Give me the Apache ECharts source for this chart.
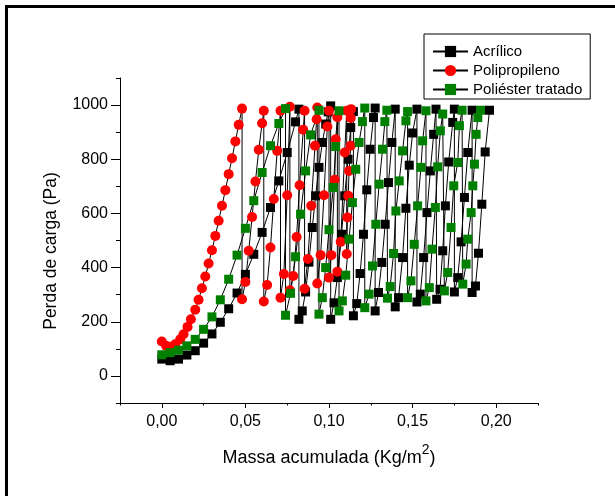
<!DOCTYPE html>
<html><head><meta charset="utf-8">
<script src="https://cdn.jsdelivr.net/npm/echarts@6/dist/echarts.min.js"></script>
<style>html,body{margin:0;padding:0;background:#fff}#c{width:615px;height:496px}</style>
</head><body><div id="c"></div>
<script>
const seriesNames = ['Acrílico', 'Polipropileno', 'Poliéster tratado'];

const acrX = [0,0.005,0.010,0.015,0.020,0.025,0.030,0.035,0.040,0.045,0.050,0.055,0.060,0.065,0.070,0.075,0.080,0.082,
  0.082,0.084,0.086,0.088,0.090,0.092,0.094,0.096,0.098,0.0995,0.101,
  0.101,0.103,0.105,0.1075,0.1094,0.1114,0.113,0.1146,
  0.1146,0.1166,0.1186,0.1206,0.1226,0.1246,0.1266,0.1276,
  0.1276,0.1296,0.1316,0.1336,0.1356,0.1376,0.1396,
  0.1396,0.1416,0.144,0.146,0.148,0.150,0.1526,
  0.1526,0.1546,0.1566,0.1586,0.1606,0.1626,0.164,
  0.1644,0.1664,0.168,0.1696,0.1716,0.174,0.175,
  0.175,0.177,0.179,0.181,0.183,0.1856,
  0.1856,0.1876,0.1894,0.1914,0.1934,0.196];
const acrY = [62,56,62,77,93,121,155,198,248,306,375,449,530,622,720,825,938,985,
  209,240,310,420,548,665,770,862,930,975,997,
  209,270,363,523,665,800,917,976,
  222,267,378,523,687,837,954,989,
  240,308,419,560,714,862,985,
  255,289,437,619,778,897,985,
  273,302,437,603,757,892,985,
  283,320,462,628,790,936,985,
  310,363,495,659,825,981,
  308,332,453,634,827,981];

const polX = [0,0.0026,0.005,0.008,0.011,0.013,0.0154,0.0174,0.020,0.022,0.024,0.026,0.028,0.030,0.032,0.034,0.036,0.038,0.040,0.042,0.044,0.046,0.048,
  0.048,0.050,0.052,0.054,0.056,0.058,0.060,0.061,
  0.061,0.063,0.065,0.067,0.069,0.071,
  0.071,0.073,0.075,0.0766,
  0.0766,0.0786,0.0806,0.0824,0.0846,0.0854,
  0.0854,0.0874,0.0894,0.0916,0.0926,0.093,
  0.093,0.095,0.097,0.099,0.100,
  0.100,0.1014,0.1034,0.104,0.105,
  0.105,0.107,0.1094,0.1106,
  0.1106,0.111,0.1115,0.112,0.113,0.113,0.1132];
const polY = [127,111,108,117,135,154,181,209,244,281,324,367,415,464,517,573,628,686,745,804,866,927,987,
  283,347,462,587,718,835,933,979,
  275,336,474,653,831,979,
  289,376,667,994,
  316,369,513,704,909,979,
  322,432,628,850,948,991,
  341,446,667,921,979,
  363,446,724,874,955,
  385,495,825,979,
  450,585,665,757,850,952,985];

const polTX = [0,0.005,0.010,0.015,0.020,0.025,0.030,0.035,0.040,0.045,0.050,0.055,0.060,0.065,0.070,0.074,
  0.074,0.077,0.080,0.083,0.086,0.089,0.094,
  0.094,0.096,0.098,0.100,0.1026,0.104,0.106,
  0.106,0.108,0.110,0.112,0.114,0.116,0.118,0.120,0.1214,
  0.1214,0.124,0.126,0.128,0.130,0.132,0.1334,0.1346,
  0.135,0.1366,0.1386,0.140,0.142,0.144,0.146,0.147,
  0.147,0.149,0.151,0.153,0.155,0.156,0.158,
  0.158,0.160,0.1616,0.1636,0.165,0.1666,0.168,
  0.169,0.171,0.173,0.1746,0.177,0.178,0.1796,
  0.180,0.182,0.183,0.185,0.186,0.187,0.188,0.189,0.1906];
const polTY = [78,86,95,111,135,172,218,281,357,446,545,647,751,850,932,987,
  224,305,440,597,757,890,981,
  228,289,400,540,696,847,979,
  240,277,372,505,640,763,862,939,989,
  252,302,406,560,708,837,939,981,
  287,330,452,609,720,831,942,976,
  289,351,486,628,770,868,979,
  277,326,468,622,772,905,967,
  314,382,548,702,788,924,981,
  339,413,505,603,702,782,892,954,981];

const xTickValues = [0, 0.05, 0.10, 0.15, 0.20];
const xTickLabels = ['0,00', '0,05', '0,10', '0,15', '0,20'];
const yTickValues = [0, 200, 400, 600, 800, 1000];
const yTickLabels = ['0', '200', '400', '600', '800', '1000'];

const xName = 'Massa acumulada (Kg/m';
const yName = 'Perda de carga (Pa)';

function zip(xs, ys) { return xs.map((x, i) => [x, ys[i]]); }
const FONT = '"Liberation Sans", Arial, sans-serif';

const chart = echarts.init(document.getElementById('c'), null, {renderer: 'canvas'});
const xLabelFmt = v => { const i = xTickValues.findIndex(t => Math.abs(t - v) < 1e-9); return i >= 0 ? xTickLabels[i] : ''; };
const yLabelFmt = v => { const i = yTickValues.findIndex(t => Math.abs(t - v) < 1e-9); return i >= 0 ? yTickLabels[i] : ''; };

const mk = (name, xs, ys, symbol, size, color) => ({
  name, type: 'line', data: zip(xs, ys), symbol, symbolSize: size, showAllSymbol: true,
  itemStyle: {color}, lineStyle: {color: '#000', width: 1},
  emphasis: {disabled: true}, animation: false, xAxisIndex: 0, yAxisIndex: 0
});

chart.setOption({
  animation: false,
  backgroundColor: '#fff',
  grid: {left: 120, right: 77, top: 78, bottom: 93, containLabel: false},
  xAxis: [
    {type: 'value', min: -0.025, max: 0.225, position: 'bottom',
     axisLine: {show: true, onZero: false, lineStyle: {color: '#000', width: 1}},
     axisTick: {show: true, customValues: xTickValues, length: 5, lineStyle: {color: '#000', width: 1}},
     axisLabel: {customValues: xTickValues, formatter: xLabelFmt, margin: 11, fontSize: 16, color: '#000', fontFamily: FONT},
     splitLine: {show: false},
     name: '{a|' + xName + '}{s|2}{a|)}', nameLocation: 'middle', nameGap: 40,
     nameTextStyle: {rich: {
       a: {fontSize: 18, lineHeight: 30, verticalAlign: 'middle', color: '#000', fontFamily: FONT},
       s: {fontSize: 14, lineHeight: 14, verticalAlign: 'top', color: '#000', fontFamily: FONT}}}
    },
    {type: 'value', min: -0.025, max: 0.225, interval: 0.025, position: 'bottom', offset: 0,
     axisLine: {show: false, onZero: false}, axisTick: {show: true, length: 2.5, lineStyle: {color: '#000', width: 1}},
     axisLabel: {show: false}, splitLine: {show: false}}
  ],
  yAxis: [
    {type: 'value', min: -100, max: 1100, position: 'left',
     axisLine: {show: true, onZero: false, lineStyle: {color: '#000', width: 1}},
     axisTick: {show: true, customValues: yTickValues, length: 9, lineStyle: {color: '#000', width: 1}},
     axisLabel: {customValues: yTickValues, formatter: yLabelFmt, margin: 12, fontSize: 16, color: '#000', fontFamily: FONT},
     splitLine: {show: false}},
    {type: 'value', min: -100, max: 1100, interval: 100, position: 'left', offset: 0,
     axisLine: {show: false, onZero: false}, axisTick: {show: true, length: 4, lineStyle: {color: '#000', width: 1}},
     axisLabel: {show: false}, splitLine: {show: false}}
  ],
  legend: {
    orient: 'vertical', left: 424, top: 34, selectedMode: false,
    data: seriesNames, itemWidth: 35, itemHeight: 14, itemGap: 4,
    padding: [10, 8, 2, 8], borderColor: '#000', borderWidth: 1, backgroundColor: '#fff',
    textStyle: {fontSize: 15, color: '#000', fontFamily: FONT}
  },
  graphic: [
    {type: 'rect', silent: true, z: -10, shape: {x: 6.5, y: 6.5, width: 1000, height: 1000},
     style: {fill: 'none', stroke: '#000', lineWidth: 3}},
    {type: 'text', silent: true, x: 51, y: 251, rotation: Math.PI / 2,
     style: {text: yName, fontSize: 17.5, fontFamily: FONT, fill: '#000', align: 'center', verticalAlign: 'middle'}}
  ],
  series: [
    mk(seriesNames[0], acrX, acrY, 'rect', 9, '#000000'),
    mk(seriesNames[1], polX, polY, 'circle', 10, '#ff0000'),
    mk(seriesNames[2], polTX, polTY, 'rect', 9, '#008000')
  ]
});
</script></body></html>
